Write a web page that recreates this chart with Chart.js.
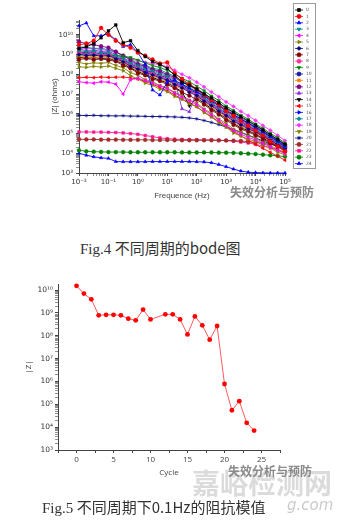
<!DOCTYPE html>
<html>
<head>
<meta charset="utf-8">
<script src="https://cdn.jsdelivr.net/npm/chart.js@4.4.1/dist/chart.umd.min.js"></script>
<style>
  html, body { margin: 0; padding: 0; background: #fff; }
  body { width: 344px; height: 523px; position: relative; overflow: hidden; }
  canvas { position: absolute; left: 0; }
  #bode { top: 0; }
  #cycle { top: 270px; }
  .cap { position: absolute; white-space: nowrap; color: #333; font-size: 15px; line-height: 16px;
         font-family: "Noto Sans CJK SC", sans-serif; }
  .cap .en { font-family: "Liberation Serif", serif; }
  .wm { position: absolute; white-space: nowrap; font-family: "Noto Sans CJK SC", sans-serif; line-height: 1; }
</style>
</head>
<body>
<canvas id="bode" width="344" height="210"></canvas>
<canvas id="cycle" width="344" height="215"></canvas>

<div class="wm" style="left:230px; top:186px; font-size:12px; font-weight:bold; color:#8a8a8a;">失效分析与预防</div>
<div class="cap" style="left:80px; top:240px;"><span class="en">Fig.4</span> 不同周期的bode图</div>

<div class="wm" style="left:192px; top:468px; font-size:28px; font-weight:bold; color:rgba(190,190,190,0.55);">嘉峪检测网</div>
<div class="wm" style="left:228px; top:465px; font-size:12px; font-weight:bold; color:#8a8a8a;">失效分析与预防</div>
<div class="wm" style="left:287px; top:498px; font-size:15px; font-style:italic; color:rgba(180,180,180,0.7); font-family:'DejaVu Sans';">g.com</div>
<div class="cap" style="left:42px; top:499px;"><span class="en">Fig.5</span> 不同周期下0.1Hz的阻抗模值</div>

<script>
// Fig.4 : |Z| (log10) at each frequency (log10 Hz), one array per cycle
const freqLog = [-2, -1.75, -1.5, -1.25, -1, -0.75, -0.5, -0.25, 0, 0.25, 0.5, 0.75, 1, 1.25, 1.5,
                 1.75, 2, 2.25, 2.5, 2.75, 3, 3.25, 3.5, 3.75, 4, 4.25, 4.5, 4.75, 5];

const z0  = [9.3, 9.4, 9.55, 9.85, 10.2, 10.5, 9.6, 9.7, 9.2, 8.9, 8.65, 8.5, 8.3, 7.95, 7.6, 7.45, 7.25, 7.0, 6.8, 6.55, 6.3, 6.08, 5.86, 5.64, 5.42, 5.18, 4.94, 4.7, 4.45];
const z1  = [9.5, 9.55, 9.7, 10.35, 10.0, 9.7, 9.5, 9.35, 9.1, 8.95, 8.75, 8.55, 8.6, 8.05, 7.75, 7.5, 7.25, 6.95, 6.7, 6.45, 6.15, 5.9, 5.65, 5.4, 5.15, 4.9, 4.6, 4.35, 4.1];
const z2  = [10.45, 10.6, 9.95, 9.95, 10.05, 9.75, 9.4, 9.5, 9.1, 8.5, 7.2, 6.95, 7.6, 7.7, 7.5, 7.3, 7.1, 6.9, 6.65, 6.4, 6.15, 5.95, 5.74, 5.52, 5.3, 5.07, 4.84, 4.6, 4.35];
const z3  = [9.21, 9.14, 9.16, 9.1, 9.11, 8.94, 8.8, 8.57, 8.43, 8.26, 8.17, 8.0, 7.9, 7.66, 7.5, 7.27, 7.12, 6.82, 6.6, 6.31, 6.09, 5.81, 5.63, 5.41, 5.24, 4.99, 4.8, 4.55, 4.35];
const z4  = [7.62, 7.58, 7.55, 7.62, 7.6, 7.5, 7.0, 7.72, 7.8, 7.68, 7.55, 7.4, 7.27, 7.05, 6.85, 6.66, 6.47, 6.2, 5.95, 5.68, 5.42, 5.15, 4.97, 4.8, 4.68, 4.5, 4.33, 4.15, 3.97];
const z5  = [8.38, 8.35, 8.4, 8.37, 8.42, 8.3, 8.18, 7.93, 7.77, 7.55, 7.44, 7.24, 7.12, 6.88, 6.74, 6.5, 6.37, 6.06, 5.84, 5.55, 5.32, 5.02, 4.88, 4.7, 4.62, 4.4, 4.27, 4.05, 3.92];
const z6  = [9.0, 8.95, 8.97, 8.92, 8.94, 8.79, 8.63, 8.41, 8.26, 8.09, 7.97, 7.82, 7.7, 7.48, 7.31, 7.09, 6.92, 6.64, 6.41, 6.13, 5.9, 5.62, 5.44, 5.24, 5.08, 4.85, 4.66, 4.43, 4.24];
const z7  = [8.75, 8.8, 8.74, 8.78, 8.72, 8.66, 8.45, 8.3, 8.06, 7.95, 7.76, 7.66, 7.48, 7.3, 7.08, 6.92, 6.72, 6.47, 6.19, 5.96, 5.68, 5.44, 5.23, 5.09, 4.91, 4.72, 4.51, 4.33, 4.11];
const z8  = [9.08, 9.0, 9.05, 8.98, 9.01, 8.83, 8.7, 8.47, 8.32, 8.14, 8.05, 7.87, 7.77, 7.53, 7.38, 7.15, 7.0, 6.7, 6.48, 6.19, 5.97, 5.68, 5.5, 5.29, 5.15, 4.89, 4.72, 4.47, 4.29];
const z9  = [9.0, 9.02, 9.0, 8.98, 8.97, 8.95, 8.92, 8.85, 8.72, 8.58, 8.44, 8.34, 8.2, 8.02, 7.8, 7.62, 7.4, 7.17, 6.9, 6.67, 6.39, 6.17, 5.92, 5.73, 5.48, 5.26, 5.01, 4.79, 4.52];
const z10 = [9.14, 9.08, 9.1, 9.04, 9.05, 8.88, 8.75, 8.52, 8.37, 8.2, 8.1, 7.93, 7.84, 7.6, 7.44, 7.21, 7.05, 6.77, 6.54, 6.26, 6.03, 5.75, 5.56, 5.36, 5.19, 4.95, 4.76, 4.52, 4.32];
const z11 = [8.93, 8.88, 8.9, 8.85, 8.88, 8.72, 8.58, 8.36, 8.2, 8.02, 7.92, 7.75, 7.63, 7.4, 7.25, 7.55, 6.86, 6.6, 6.32, 6.09, 5.81, 5.57, 5.35, 5.2, 5.01, 4.82, 4.6, 4.41, 4.19];
const z12 = [9.65, 9.55, 9.5, 9.42, 9.35, 9.15, 8.95, 8.72, 8.5, 8.41, 8.25, 8.15, 7.99, 7.83, 7.6, 7.43, 7.21, 6.98, 6.7, 6.47, 6.2, 5.97, 5.73, 5.55, 5.33, 5.12, 4.87, 4.66, 4.41];
const z13 = [9.28, 9.2, 9.23, 9.16, 9.17, 9.0, 8.85, 8.63, 8.49, 8.31, 8.23, 8.06, 7.97, 7.72, 6.25, 6.1, 7.15, 6.93, 6.64, 6.42, 6.14, 5.9, 5.67, 5.5, 5.27, 5.07, 4.83, 4.62, 4.37];
const z14 = [8.86, 8.81, 8.84, 8.8, 8.82, 8.68, 8.54, 8.31, 8.15, 7.98, 7.85, 7.69, 7.57, 7.35, 7.12, 6.4, 6.8, 6.53, 6.26, 6.02, 5.75, 5.51, 5.29, 5.15, 4.96, 4.77, 4.56, 4.37, 4.15];
const z15 = [7.82, 7.85, 7.83, 7.86, 7.84, 7.85, 7.86, 7.82, 7.76, 7.64, 7.5, 7.33, 7.17, 6.95, 6.75, 6.55, 6.35, 6.1, 5.85, 5.6, 5.35, 5.1, 4.88, 4.65, 4.45, 4.25, 4.05, 3.85, 3.65];
const z16 = [9.02, 9.06, 9.0, 9.03, 8.96, 8.87, 8.66, 8.51, 8.28, 8.18, 8.01, 7.91, 7.73, 7.57, 7.34, 7.19, 6.96, 6.74, 6.44, 6.23, 5.93, 5.72, 5.47, 5.33, 5.11, 4.93, 4.68, 4.51, 4.25];
const z17 = [9.38, 9.37, 9.31, 9.32, 9.24, 9.14, 8.92, 8.77, 8.56, 8.47, 8.31, 8.23, 8.06, 7.9, 7.66, 7.5, 7.27, 7.05, 6.76, 6.55, 6.26, 6.05, 5.79, 5.62, 5.37, 5.18, 4.91, 4.71, 4.44];
const z18 = [9.35, 9.3, 9.3, 9.25, 9.22, 9.1, 8.95, 8.8, 8.68, 8.6, 8.55, 8.48, 8.38, 8.2, 8.0, 7.82, 7.6, 7.36, 7.1, 6.86, 6.6, 6.37, 6.12, 5.9, 5.66, 5.4, 5.16, 4.9, 4.64];
const z19 = [8.6, 8.52, 8.58, 8.55, 8.6, 8.45, 8.33, 8.09, 7.94, 7.73, 7.62, 7.43, 7.31, 7.08, 6.93, 6.7, 6.55, 6.25, 6.02, 5.74, 5.51, 5.22, 5.06, 4.88, 4.77, 4.55, 4.4, 4.18, 4.02];
const z20 = [5.92, 5.91, 5.92, 5.9, 5.9, 5.89, 5.9, 5.88, 5.88, 5.87, 5.86, 5.86, 5.85, 5.84, 5.82, 5.79, 5.74, 5.66, 5.56, 5.45, 5.33, 5.2, 5.06, 4.92, 4.77, 4.62, 4.48, 4.35, 4.22];
const z21 = [4.71, 4.7, 4.7, 4.69, 4.69, 4.69, 4.68, 4.68, 4.68, 4.68, 4.67, 4.67, 4.67, 4.66, 4.66, 4.66, 4.66, 4.66, 4.66, 4.65, 4.65, 4.64, 4.62, 4.59, 4.55, 4.5, 4.45, 4.4, 4.35];
const z22 = [5.08, 5.08, 5.07, 5.07, 5.06, 5.05, 5.03, 5.0, 4.96, 4.9, 4.84, 4.78, 4.74, 4.71, 4.7, 4.69, 4.68, 4.68, 4.67, 4.66, 4.64, 4.61, 4.57, 4.52, 4.45, 4.37, 4.27, 4.17, 4.07];
const z23 = [4.15, 4.1, 4.08, 4.07, 4.06, 4.06, 4.06, 4.05, 4.05, 4.05, 4.05, 4.05, 4.05, 4.05, 4.04, 4.04, 4.04, 4.04, 4.04, 4.03, 4.03, 4.02, 4.0, 3.98, 3.96, 3.93, 3.9, 3.87, 3.83];
const z24 = [4.0, 3.9, 3.82, 3.77, 3.74, 3.58, 3.57, 3.57, 3.57, 3.57, 3.58, 3.58, 3.58, 3.58, 3.58, 3.58, 3.57, 3.56, 3.52, 3.43, 3.32, 3.2, 3.1, 3.04, 3.02, 3.01, 3.0, 3.0, 3.0];

const seriesLog = [z0, z1, z2, z3, z4, z5, z6, z7, z8, z9, z10, z11, z12, z13, z14, z15, z16, z17, z18, z19, z20, z21, z22, z23, z24];
const seriesNames = seriesLog.map((_, i) => String(i));
const seriesColors = ['#000000', '#ff0000', '#0000ff', '#008b8b', '#ff00ff', '#808000', '#000080', '#800000',
                      '#ff3399', '#008000', '#1a1aa6', '#ff8000', '#800080', '#8a2be2', '#000000', '#ff0000',
                      '#0000ff', '#008b8b', '#ff33ff', '#808000', '#000080', '#a52a2a', '#ff1493', '#008000', '#0000ff'];
const seriesMarkers = ['rect', 'circle', 'triangle', 'triangle', 'triangle', 'triangle', 'rectRot', 'circle',
                       'circle', 'triangle', 'circle', 'rect', 'circle', 'triangle', 'triangle', 'triangle',
                       'triangle', 'rectRot', 'rectRot', 'triangle', 'star', 'circle', 'rect', 'circle', 'triangle'];
const seriesRotation = [0, 0, 0, 180, 270, 90, 0, 0, 0, 180, 0, 0, 0, 0, 180, 270, 90, 0, 0, 180, 0, 0, 0, 0, 0];

// Fig.5 : |Z| (log10) at 0.1 Hz for each cycle (cycle 11 has no point)
const cycles = [0, 1, 2, 3, 4, 5, 6, 7, 8, 9, 10, 11, 12, 13, 14, 15, 16, 17, 18, 19, 20, 21, 22, 23, 24];
const zCycle = [10.19, 9.85, 9.6, 8.9, 8.92, 8.92, 8.9, 8.75, 8.68, 9.15, 8.72, null, 8.94, 8.94, 8.72,
                8.06, 8.85, 8.46, 7.83, 8.43, 5.89, 4.74, 5.14, 4.19, 3.85];

const supMap = { '-': '⁻', '0': '⁰', '1': '¹', '2': '²', '3': '³', '4': '⁴', '5': '⁵', '6': '⁶', '7': '⁷', '8': '⁸', '9': '⁹' };
function powLabel(v) {
    if (Math.abs(v - Math.round(v)) > 1e-6) return '';
    return '10' + String(Math.round(v)).split('').map(c => supMap[c]).join('');
}
// ticks at every 1..9 x 10^n between lo and hi (log10 units)
function logTicks(lo, hi) {
    const t = [];
    for (let n = Math.floor(lo); n <= hi; n++) {
        for (let k = 1; k < 10; k++) {
            const v = n + Math.log10(k);
            if (v >= lo - 1e-9 && v <= hi + 1e-9) t.push({ value: +v.toFixed(6) });
        }
    }
    return t;
}
const isMajor = ctx => ctx.tick && Math.abs(ctx.tick.value - Math.round(ctx.tick.value)) < 1e-6;

const tickFont = { family: '"DejaVu Sans"', size: 7 };
const axisColor = '#444';

// legend box drawn beside the plot (lines + markers)
const bodeLegend = {
    id: 'bodeLegend',
    afterDraw(chart) {
        const ctx = chart.ctx;
        const x0 = chart.chartArea.right + 8, y0 = 3;
        ctx.save();
        ctx.strokeStyle = '#9a9a9a';
        ctx.lineWidth = 1;
        ctx.strokeRect(x0 + 0.5, y0 + 0.5, 22, 165);
        chart.data.datasets.forEach((ds, i) => {
            const y = y0 + 7 + i * 6.4;
            ctx.strokeStyle = ds.borderColor;
            ctx.fillStyle = ds.borderColor;
            ctx.lineWidth = 0.8;
            ctx.beginPath();
            ctx.moveTo(x0 + 2, y);
            ctx.lineTo(x0 + 10, y);
            ctx.stroke();
            Chart.helpers.drawPoint(ctx, { pointStyle: ds.pointStyle, rotation: ds.pointRotation, radius: 2, borderWidth: 0.6 }, x0 + 6, y);
            ctx.fillStyle = '#555';
            ctx.font = '4.5px "DejaVu Sans"';
            ctx.textBaseline = 'middle';
            ctx.fillText(ds.label, x0 + 13, y);
        });
        ctx.restore();
    }
};

new Chart(document.getElementById('bode'), {
    type: 'scatter',
    data: {
        datasets: seriesLog.map((vals, i) => ({
            label: seriesNames[i],
            data: vals.map((v, j) => ({ x: freqLog[j], y: v })),
            showLine: true,
            borderColor: seriesColors[i],
            backgroundColor: seriesColors[i],
            pointBackgroundColor: seriesColors[i],
            pointBorderColor: seriesColors[i],
            borderWidth: 0.9,
            pointRadius: 1.9,
            pointBorderWidth: 0.5,
            pointStyle: seriesMarkers[i],
            pointRotation: seriesRotation[i],
            clip: 4
        }))
    },
    options: {
        responsive: false,
        animation: false,
        events: [],
        layout: { padding: { left: 0, right: 59, top: 20, bottom: 0 } },
        plugins: { legend: { display: false }, tooltip: { enabled: false } },
        scales: {
            x: {
                type: 'linear', min: -2, max: 5,
                afterBuildTicks: s => { s.ticks = logTicks(-2, 5); },
                afterFit: s => { s.height = 37; },
                border: { display: true, color: axisColor, width: 1 },
                grid: { drawOnChartArea: false, tickLength: 3, tickColor: axisColor, tickWidth: c => isMajor(c) ? 1 : 0.6 },
                ticks: { autoSkip: false, maxRotation: 0, padding: 2, font: tickFont, color: '#333', callback: v => powLabel(v) },
                title: { display: true, text: 'Frequence (Hz)', color: '#444', font: { family: '"Liberation Sans"', size: 8 }, padding: { top: 0, bottom: 9 } }
            },
            y: {
                type: 'linear', min: 3, max: 10.75,
                afterBuildTicks: s => { s.ticks = logTicks(3, 10.75); },
                afterFit: s => { s.width = 79; },
                border: { display: true, color: axisColor, width: 1 },
                grid: { drawOnChartArea: false, tickLength: 3, tickColor: axisColor, tickWidth: c => isMajor(c) ? 1 : 0.6 },
                ticks: { autoSkip: false, padding: 3, font: tickFont, color: '#333', callback: v => powLabel(v) },
                title: { display: true, text: '|Z| (ohms)', color: '#444', font: { family: '"Liberation Sans"', size: 8 }, padding: { top: 50, bottom: 0 } }
            }
        }
    },
    plugins: [bodeLegend]
});

new Chart(document.getElementById('cycle'), {
    type: 'scatter',
    data: {
        datasets: [{
            label: '|Z|',
            data: cycles.map((c, i) => ({ x: c, y: zCycle[i] })),
            showLine: true,
            spanGaps: true,
            borderColor: 'rgba(255,40,40,0.85)',
            borderWidth: 0.9,
            pointBackgroundColor: '#ff0000',
            pointBorderColor: '#ff0000',
            pointRadius: 2.4,
            pointBorderWidth: 0,
            clip: 4
        }]
    },
    options: {
        responsive: false,
        animation: false,
        events: [],
        layout: { padding: { left: 0, right: 64, top: 14, bottom: 0 } },
        plugins: { legend: { display: false }, tooltip: { enabled: false } },
        scales: {
            x: {
                type: 'linear', min: -2.5, max: 27.5,
                afterFit: s => { s.height = 35; },
                border: { display: true, color: axisColor, width: 1 },
                grid: { drawOnChartArea: false, tickLength: 3, tickColor: axisColor },
                ticks: { stepSize: 2.5, autoSkip: false, maxRotation: 0, padding: 2, color: '#444',
                         font: { family: '"Open Sans"', size: 8 }, callback: v => (v % 5 === 0 ? String(v) : '') },
                title: { display: true, text: 'Cycle', color: '#444', font: { family: '"Open Sans"', size: 8 }, padding: { top: 0, bottom: 7 } }
            },
            y: {
                type: 'linear', min: 3, max: 10.27,
                afterBuildTicks: s => { s.ticks = logTicks(3, 10.27); },
                afterFit: s => { s.width = 58; },
                border: { display: true, color: axisColor, width: 1 },
                grid: { drawOnChartArea: false, tickLength: 3, tickColor: axisColor, tickWidth: c => isMajor(c) ? 1 : 0.6 },
                ticks: { autoSkip: false, padding: 2, font: { family: '"DejaVu Sans"', size: 7.5 }, color: '#333', callback: v => powLabel(v) },
                title: { display: true, text: '|Z|', color: '#444', font: { family: '"Open Sans"', size: 8 }, padding: { top: 24, bottom: 0 } }
            }
        }
    }
});
</script>
</body>
</html>
